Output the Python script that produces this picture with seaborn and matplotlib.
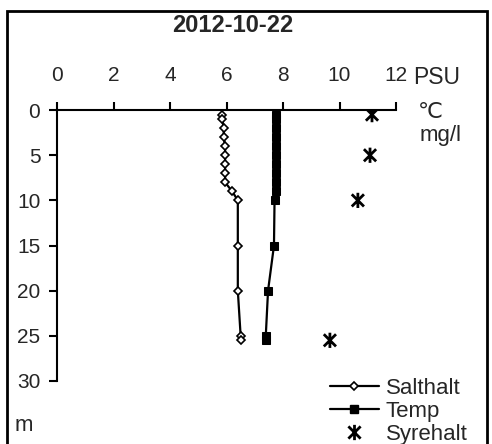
import pandas as pd
import matplotlib
matplotlib.use('Agg')
import matplotlib.pyplot as plt
import seaborn as sns
from matplotlib.path import Path
from matplotlib.lines import Line2D
from matplotlib.patches import Rectangle

# Data (depth in m)
salt_depth = [0.5, 1, 2, 3, 4, 5, 6, 7, 8, 9, 10, 15, 20, 25, 25.5]
salt_value = [5.85, 5.85, 5.9, 5.9, 5.95, 5.95, 5.95, 5.95, 5.95, 6.2, 6.4, 6.4, 6.4, 6.5, 6.5]

temp_depth = [0.5, 1, 2, 3, 4, 5, 6, 7, 8, 9, 10, 15, 20, 25, 25.5]
temp_value = [7.75, 7.75, 7.75, 7.75, 7.75, 7.75, 7.75, 7.75, 7.75, 7.75, 7.7, 7.68, 7.47, 7.39, 7.39]

oxy_depth = [0.5, 5, 10, 25.5]
oxy_value = [11.15, 11.08, 10.65, 9.66]

x_ticks = [0, 2, 4, 6, 8, 10, 12]
y_ticks = [0, 5, 10, 15, 20, 25, 30]

sns.set_style('white')
plt.rcParams['font.family'] = ['Liberation Sans', 'DejaVu Sans']
plt.rcParams['font.size'] = 15

salt_df = pd.DataFrame({'depth': salt_depth, 'value': salt_value})
temp_df = pd.DataFrame({'depth': temp_depth, 'value': temp_value})
oxy_df = pd.DataFrame({'depth': oxy_depth, 'value': oxy_value})

# asterisk-like marker (X plus vertical bar)
star = Path([(-1, -1), (1, 1), (-1, 1), (1, -1), (0, -1.25), (0, 1.25)],
            [Path.MOVETO, Path.LINETO, Path.MOVETO, Path.LINETO, Path.MOVETO, Path.LINETO])

fig = plt.figure(figsize=(4.92, 4.44), dpi=100)
ax = fig.add_axes([0.1159, 0.142, 0.689, 0.61])

sns.lineplot(data=salt_df, x='value', y='depth', sort=False, estimator=None, ax=ax,
             color='black', lw=1.6, marker='D', markersize=4.5,
             markerfacecolor='white', markeredgecolor='black', markeredgewidth=1.2)
sns.lineplot(data=temp_df, x='value', y='depth', sort=False, estimator=None, ax=ax,
             color='black', lw=1.6, marker='s', markersize=6,
             markerfacecolor='black', markeredgecolor='black')
sns.scatterplot(data=oxy_df, x='value', y='depth', ax=ax, marker=star, s=120,
                facecolor='none', edgecolor='black', linewidth=2, zorder=5)

ax.set_xlim(0, 12)
ax.set_ylim(30, 0)
ax.set_xticks(x_ticks)
ax.set_yticks(y_ticks)
ax.xaxis.tick_top()
ax.tick_params(axis='x', top=True, bottom=False, direction='out', length=6, width=1.5,
               pad=12, labelsize=15, color='black')
ax.tick_params(axis='y', left=True, right=False, direction='out', length=6, width=1.5,
               pad=6, labelsize=15, color='black')
ax.set_xlabel('')
ax.set_ylabel('')
for side in ['bottom', 'right']:
    ax.spines[side].set_visible(False)
for side in ['top', 'left']:
    ax.spines[side].set_linewidth(1.5)
    ax.spines[side].set_color('black')

# unit labels
fig.text(413 / 492, 1 - 77 / 444, 'PSU', ha='left', va='center', fontsize=16.5)
fig.text(418 / 492, 1 - 112 / 444, '℃', ha='left', va='center', fontsize=16)
fig.text(420 / 492, 1 - 136 / 444, 'mg/l', ha='left', va='center', fontsize=16)
fig.text(15 / 492, 1 - 425 / 444, 'm', ha='left', va='center', fontsize=16)

fig.text(0.4726, 1 - 26 / 444, '2012-10-22', ha='center', va='center',
         fontsize=17, fontweight='bold')

handles = [
    Line2D([], [], color='black', lw=1.6, marker='D', markersize=4.5,
           markerfacecolor='white', markeredgewidth=1.2),
    Line2D([], [], color='black', lw=1.6, marker='s', markersize=6),
    Line2D([], [], color='black', linestyle='none', marker=star, markersize=11,
           markeredgewidth=2),
]
fig.legend(handles, ['Salthalt', 'Temp', 'Syrehalt'], loc='upper left',
           bbox_to_anchor=(330 / 492, 1 - 378 / 444), frameon=False,
           fontsize=16, handlelength=2.2, handletextpad=0.3, labelspacing=0.08,
           borderpad=0, borderaxespad=0)

# figure frame (bottom edge lies below the image, as in the original crop)
fig.patches.append(Rectangle((7 / 492, -10 / 444), 480 / 492, 443 / 444,
                             transform=fig.transFigure, fill=False,
                             edgecolor='black', lw=2))

fig.savefig('out.png', dpi=100)
